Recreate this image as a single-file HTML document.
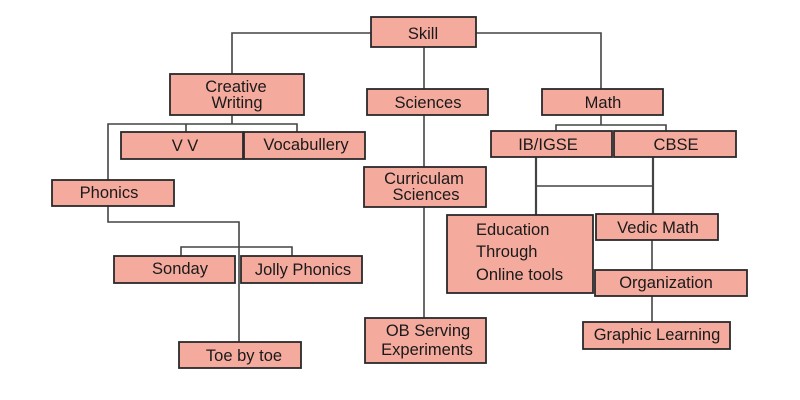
<!DOCTYPE html>
<html><head><meta charset="utf-8"><style>
html,body{margin:0;padding:0;background:#fff;width:800px;height:400px;overflow:hidden}
svg text{font-family:"Liberation Sans",sans-serif;font-size:16.5px;fill:#1a1a1a}
</style></head><body>
<svg width="800" height="400" viewBox="0 0 800 400">
<g stroke="#444" stroke-width="1.6" fill="none">
<polyline points="371,33 232,33 232,74"/>
<line x1="424" y1="47" x2="424" y2="89"/>
<polyline points="476,33 601,33 601,89"/>
<line x1="232" y1="115" x2="232" y2="124"/>
<polyline points="108,180 108,124 297,124 297,132"/>
<line x1="186" y1="124" x2="186" y2="132"/>
<polyline points="108,206 108,222 239,222 239,342"/>
<polyline points="181,256 181,247 292,247 292,256"/>
<line x1="424" y1="115" x2="424" y2="167"/>
<line x1="424" y1="207" x2="424" y2="318"/>
<line x1="601" y1="115" x2="601" y2="125"/>
<polyline points="556,131 556,125 666,125 666,131"/>
<line x1="536" y1="157" x2="536" y2="215" stroke-width="2.2"/>
<line x1="653" y1="157" x2="653" y2="214" stroke-width="2.2"/>
<line x1="536" y1="186" x2="653" y2="186"/>
<line x1="652" y1="240" x2="652" y2="270"/>
<line x1="652" y1="296" x2="652" y2="322"/>
</g>
<g fill="#f5aa9e" stroke="#2a2a2a" stroke-width="1.8">
<rect x="371" y="17" width="105" height="30"/>
<rect x="170" y="74" width="134" height="41"/>
<rect x="121" y="132" width="122" height="27"/>
<rect x="244" y="132" width="121" height="27"/>
<rect x="52" y="180" width="122" height="26"/>
<rect x="114" y="256" width="121" height="27"/>
<rect x="241" y="256" width="121" height="27"/>
<rect x="179" y="342" width="122" height="26"/>
<rect x="367" y="89" width="121" height="26"/>
<rect x="364" y="167" width="122" height="40"/>
<rect x="365" y="318" width="121" height="45"/>
<rect x="542" y="89" width="121" height="26"/>
<rect x="491" y="131" width="121" height="26"/>
<rect x="614" y="131" width="122" height="26"/>
<rect x="447" y="215" width="146" height="78"/>
<rect x="596" y="214" width="122" height="26"/>
<rect x="595" y="270" width="152" height="26"/>
<rect x="583" y="322" width="147" height="27"/>
</g>
<g text-anchor="middle">
<text x="423" y="39">Skill</text>
<text x="236" y="92">Creative</text>
<text x="237" y="108">Writing</text>
<text x="185" y="151">V V</text>
<text x="306" y="150">Vocabullery</text>
<text x="109" y="198">Phonics</text>
<text x="180" y="274">Sonday</text>
<text x="303" y="275">Jolly Phonics</text>
<text x="244" y="361">Toe by toe</text>
<text x="428" y="108">Sciences</text>
<text x="424" y="184">Curriculam</text>
<text x="426" y="200">Sciences</text>
<text x="428" y="336">OB Serving</text>
<text x="427" y="355">Experiments</text>
<text x="603" y="108">Math</text>
<text x="548" y="150">IB/IGSE</text>
<text x="676" y="150">CBSE</text>
<text x="658" y="233">Vedic Math</text>
<text x="666" y="288">Organization</text>
<text x="657" y="340">Graphic Learning</text>
</g>
<text x="476" y="235">Education</text>
<text x="476" y="257">Through</text>
<text x="476" y="280">Online tools</text>
</svg>
</body></html>
